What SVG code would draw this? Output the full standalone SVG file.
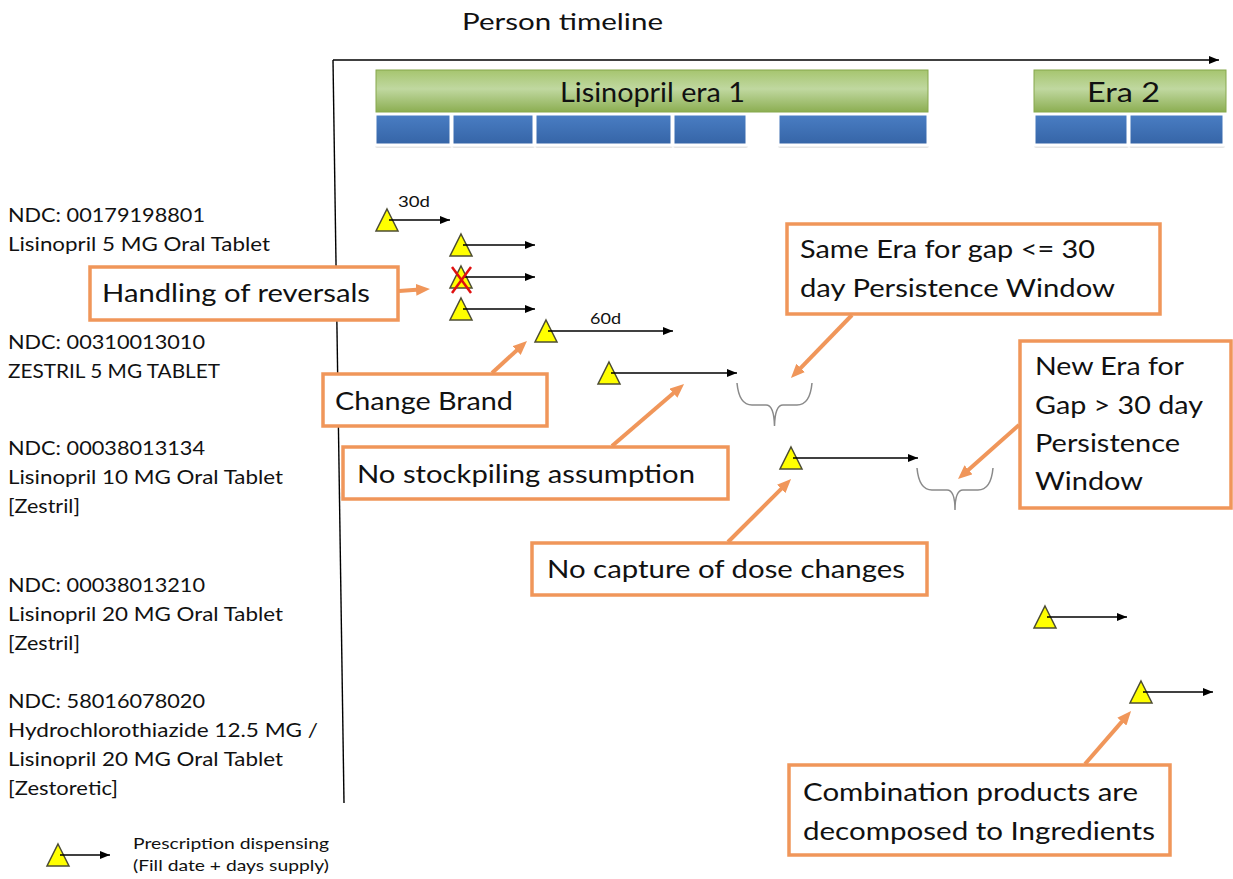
<svg xmlns="http://www.w3.org/2000/svg" width="1233" height="879" viewBox="0 0 1233 879">
<defs>
<linearGradient id="gGreen" x1="0" y1="0" x2="0" y2="1">
<stop offset="0" stop-color="#a6c56f"/>
<stop offset="0.45" stop-color="#c0d8a0"/>
<stop offset="1" stop-color="#8cae52"/>
</linearGradient>
<linearGradient id="gBlue" x1="0" y1="0" x2="0" y2="1">
<stop offset="0" stop-color="#4a7ec4"/>
<stop offset="1" stop-color="#3564a6"/>
</linearGradient>
<marker id="blk" viewBox="0 0 10 8" markerWidth="10" markerHeight="8" markerUnits="userSpaceOnUse" refX="10" refY="4" orient="auto">
<path d="M0,0 L10,4 L0,8 z" fill="#000"/>
</marker>
<marker id="org" viewBox="0 0 14 12" markerWidth="14" markerHeight="12" markerUnits="userSpaceOnUse" refX="4" refY="6" orient="auto">
<path d="M0,0 L14,6 L0,12 z" fill="#f0965a"/>
</marker>
<path id="tri" d="M0,-11 L11,11 L-11,11 Z"/>
</defs>
<style>
text{font-family:Lato,"Open Sans","Liberation Sans",sans-serif;fill:#111;}
.lbl{font-size:20px;}
.call{font-size:25px;}
.box{fill:#fff;stroke:#f0965a;stroke-width:3.5;}
.green{fill:url(#gGreen);stroke:#86a84c;stroke-width:1;}
.blue{fill:url(#gBlue);stroke:#fff;stroke-width:3;}
.shadow{fill:#000;opacity:0.10;}
.tri{fill:#ffff00;stroke:#4d4d33;stroke-width:1.5;}
.rx{stroke:#000;stroke-width:1.4;fill:none;marker-end:url(#blk);}
.oa{stroke:#f0965a;stroke-width:4;fill:none;marker-end:url(#org);}
.brace{stroke:#8a8a8a;stroke-width:1.5;fill:none;}
.axis{stroke:#000;stroke-width:1.4;fill:none;}
</style>

<g id="axes">
<text x="462" y="30" font-size="24" textLength="201" lengthAdjust="spacingAndGlyphs">Person timeline</text>
<line class="axis" x1="333" y1="60" x2="1219" y2="60" marker-end="url(#blk)"/>
<line class="axis" x1="333" y1="60" x2="344" y2="803"/>
</g>

<g id="era1">
<rect class="shadow" x="375" y="118" width="77" height="30" rx="2"/>
<rect class="shadow" x="452" y="118" width="83" height="30" rx="2"/>
<rect class="shadow" x="535" y="118" width="138" height="30" rx="2"/>
<rect class="shadow" x="673" y="118" width="75" height="30" rx="2"/>
<rect class="shadow" x="778" y="118" width="151" height="30" rx="2"/>
<rect class="blue" x="375" y="114" width="76" height="31"/>
<rect class="blue" x="452" y="114" width="82" height="31"/>
<rect class="blue" x="535" y="114" width="137" height="31"/>
<rect class="blue" x="673" y="114" width="74" height="31"/>
<rect class="blue" x="778" y="114" width="150" height="31"/>
<rect class="green" x="376" y="70" width="552" height="42"/>
<text x="560" y="102" font-size="26" textLength="185" lengthAdjust="spacingAndGlyphs">Lisinopril era 1</text>
</g>

<g id="era2">
<rect class="shadow" x="1034" y="118" width="95" height="30" rx="2"/>
<rect class="shadow" x="1129" y="118" width="96" height="30" rx="2"/>
<rect class="blue" x="1034" y="114" width="94" height="31"/>
<rect class="blue" x="1129" y="114" width="95" height="31"/>
<rect class="green" x="1034" y="70" width="192" height="42"/>
<text x="1087" y="102" font-size="26" textLength="73" lengthAdjust="spacingAndGlyphs">Era 2</text>
</g>

<g id="drug-labels">
<text class="lbl" x="8" y="222" textLength="197" lengthAdjust="spacingAndGlyphs">NDC: 00179198801</text>
<text class="lbl" x="8" y="251" textLength="262" lengthAdjust="spacingAndGlyphs">Lisinopril 5 MG Oral Tablet</text>
<text class="lbl" x="8" y="349" textLength="197" lengthAdjust="spacingAndGlyphs">NDC: 00310013010</text>
<text class="lbl" x="8" y="378" textLength="212" lengthAdjust="spacingAndGlyphs">ZESTRIL 5 MG TABLET</text>
<text class="lbl" x="8" y="455" textLength="197" lengthAdjust="spacingAndGlyphs">NDC: 00038013134</text>
<text class="lbl" x="8" y="484" textLength="275" lengthAdjust="spacingAndGlyphs">Lisinopril 10 MG Oral Tablet</text>
<text class="lbl" x="8" y="513" textLength="72" lengthAdjust="spacingAndGlyphs">[Zestril]</text>
<text class="lbl" x="8" y="592" textLength="197" lengthAdjust="spacingAndGlyphs">NDC: 00038013210</text>
<text class="lbl" x="8" y="621" textLength="275" lengthAdjust="spacingAndGlyphs">Lisinopril 20 MG Oral Tablet</text>
<text class="lbl" x="8" y="650" textLength="72" lengthAdjust="spacingAndGlyphs">[Zestril]</text>
<text class="lbl" x="8" y="708" textLength="197" lengthAdjust="spacingAndGlyphs">NDC: 58016078020</text>
<text class="lbl" x="8" y="737" textLength="310" lengthAdjust="spacingAndGlyphs">Hydrochlorothiazide 12.5 MG /</text>
<text class="lbl" x="8" y="766" textLength="275" lengthAdjust="spacingAndGlyphs">Lisinopril 20 MG Oral Tablet</text>
<text class="lbl" x="8" y="795" textLength="110" lengthAdjust="spacingAndGlyphs">[Zestoretic]</text>
</g>

<g id="dispensings">
<use href="#tri" class="tri" x="387" y="220"/>
<line class="rx" x1="389" y1="220" x2="450" y2="220"/>
<text x="398" y="207" font-size="15" textLength="32" lengthAdjust="spacingAndGlyphs">30d</text>
<use href="#tri" class="tri" x="461" y="245"/>
<line class="rx" x1="463" y1="245" x2="535" y2="245"/>
<use href="#tri" class="tri" x="461" y="277"/>
<line class="rx" x1="463" y1="277" x2="535" y2="277"/>
<line x1="452" y1="267" x2="471" y2="293" stroke="#e01010" stroke-width="2.5"/>
<line x1="471" y1="267" x2="452" y2="293" stroke="#e01010" stroke-width="2.5"/>
<use href="#tri" class="tri" x="461" y="309"/>
<line class="rx" x1="463" y1="309" x2="535" y2="309"/>
<use href="#tri" class="tri" x="546" y="331"/>
<line class="rx" x1="548" y1="331" x2="673" y2="331"/>
<text x="590" y="324" font-size="15" textLength="31" lengthAdjust="spacingAndGlyphs">60d</text>
<use href="#tri" class="tri" x="609" y="373"/>
<line class="rx" x1="611" y1="373" x2="737" y2="373"/>
<use href="#tri" class="tri" x="791" y="458"/>
<line class="rx" x1="793" y1="458" x2="918" y2="458"/>
<use href="#tri" class="tri" x="1045" y="617"/>
<line class="rx" x1="1047" y1="617" x2="1127" y2="617"/>
<use href="#tri" class="tri" x="1141" y="692"/>
<line class="rx" x1="1143" y1="692" x2="1213" y2="692"/>
</g>

<g id="braces">
<path class="brace" d="M737,383 Q739,405 752,405 L766,405 Q774,405 774.5,426 Q775,405 783,405 L797,405 Q810,405 812,383"/>
<path class="brace" d="M917,468 Q919,490 932,490 L947,490 Q955,490 955,510 Q955,490 963,490 L978,490 Q991,490 993,468"/>
</g>

<g id="callout-reversals">
<rect class="box" x="90" y="267" width="308" height="53"/>
<text class="call" x="102" y="302" textLength="268" lengthAdjust="spacingAndGlyphs">Handling of reversals</text>
</g>
<g id="callout-brand">
<rect class="box" x="323" y="374" width="224" height="52"/>
<text class="call" x="335" y="410" textLength="178" lengthAdjust="spacingAndGlyphs">Change Brand</text>
</g>
<g id="callout-stockpiling">
<rect class="box" x="343" y="447" width="385" height="52"/>
<text class="call" x="357" y="483" textLength="338" lengthAdjust="spacingAndGlyphs">No stockpiling assumption</text>
</g>
<g id="callout-dose">
<rect class="box" x="532" y="543" width="395" height="52"/>
<text class="call" x="547" y="578" textLength="358" lengthAdjust="spacingAndGlyphs">No capture of dose changes</text>
</g>
<g id="callout-same-era">
<rect class="box" x="787" y="224" width="373" height="90"/>
<text class="call" x="800" y="258" textLength="295" lengthAdjust="spacingAndGlyphs">Same Era for gap &lt;= 30</text>
<text class="call" x="800" y="297" textLength="315" lengthAdjust="spacingAndGlyphs">day Persistence Window</text>
</g>
<g id="callout-new-era">
<rect class="box" x="1020" y="341" width="211" height="167"/>
<text class="call" x="1035" y="375" textLength="149" lengthAdjust="spacingAndGlyphs">New Era for</text>
<text class="call" x="1035" y="414" textLength="168" lengthAdjust="spacingAndGlyphs">Gap &gt; 30 day</text>
<text class="call" x="1035" y="452" textLength="145" lengthAdjust="spacingAndGlyphs">Persistence</text>
<text class="call" x="1035" y="490" textLength="108" lengthAdjust="spacingAndGlyphs">Window</text>
</g>
<g id="callout-combination">
<rect class="box" x="789" y="765" width="381" height="90"/>
<text class="call" x="803" y="801" textLength="335" lengthAdjust="spacingAndGlyphs">Combination products are</text>
<text class="call" x="803" y="840" textLength="352" lengthAdjust="spacingAndGlyphs">decomposed to Ingredients</text>
</g>

<g id="connectors">
<line class="oa" x1="399" y1="291" x2="420" y2="289.6"/>
<line class="oa" x1="492" y1="373" x2="519.6" y2="347.8"/>
<line class="oa" x1="612" y1="446" x2="676.5" y2="390.6"/>
<line class="oa" x1="728" y1="542" x2="784" y2="486.1"/>
<line class="oa" x1="852" y1="315" x2="797.9" y2="370.8"/>
<line class="oa" x1="1019" y1="425" x2="965.5" y2="472.4"/>
<line class="oa" x1="1085" y1="764" x2="1124.5" y2="718.6"/>
</g>

<g id="legend">
<use href="#tri" class="tri" x="58" y="855"/>
<line class="rx" x1="60" y1="855" x2="110" y2="855"/>
<text x="133" y="849" font-size="15" textLength="196" lengthAdjust="spacingAndGlyphs">Prescription dispensing</text>
<text x="133" y="871" font-size="15" textLength="196" lengthAdjust="spacingAndGlyphs">(Fill date + days supply)</text>
</g>
</svg>
